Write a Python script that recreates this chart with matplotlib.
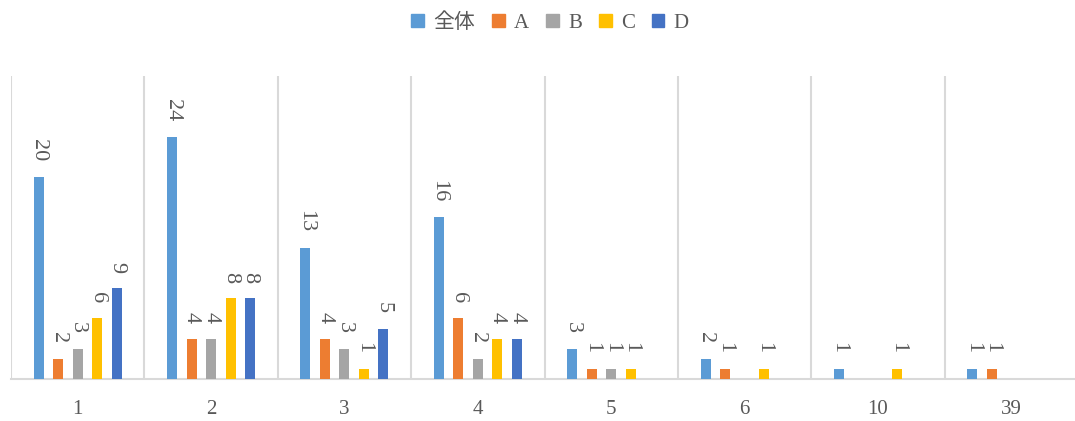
import matplotlib
matplotlib.use("Agg")
import matplotlib.pyplot as plt
from matplotlib.patches import Patch
import numpy as np

categories = ["1", "2", "3", "4", "5", "6", "10", "39"]
series_names = ["全体", "A", "B", "C", "D"]
zentai = [20, 24, 13, 16, 3, 2, 1, 1]
a_vals = [2, 4, 4, 6, 1, 1, 0, 1]
b_vals = [3, 4, 3, 2, 1, 0, 0, 0]
c_vals = [6, 8, 1, 4, 1, 1, 1, 0]
d_vals = [9, 8, 5, 4, 0, 0, 0, 0]

colors = ["#5B9BD5", "#ED7D31", "#A5A5A5", "#FFC000", "#4472C4"]
text_color = "#595959"
grid_color = "#D9D9D9"
fonts = ["Liberation Serif", "Noto Sans CJK JP", "DejaVu Sans"]

W, H = 1075, 421
fig = plt.figure(figsize=(W / 100, H / 100), dpi=100)
ax = fig.add_axes([11 / W, (H - 379) / H, 1067 / W, (379 - 76) / H])

x = np.arange(len(categories))
step = 0.146
width = 0.075
all_series = [zentai, a_vals, b_vals, c_vals, d_vals]

for i, vals in enumerate(all_series):
    pos = x + (i - 2) * step
    ax.bar(pos, vals, width=width, color=colors[i], zorder=3)
    for px, v in zip(pos, vals):
        if v == 0:
            continue
        ax.annotate(str(v), (px, v), xytext=(0, 11), textcoords="offset points",
                    rotation=-90, ha="center", va="bottom", fontsize=16,
                    color=text_color, family=fonts)

ax.set_xlim(-0.5, len(categories) - 0.5)
ax.set_ylim(0, 30)
for k in range(len(categories) + 1):
    ax.axvline(k - 0.5, color=grid_color, lw=1.5, zorder=1)

for s in ["top", "right", "left"]:
    ax.spines[s].set_visible(False)
ax.spines["bottom"].set_color(grid_color)
ax.spines["bottom"].set_linewidth(1.5)
ax.set_yticks([])
ax.set_xticks(x)
ax.set_xticklabels(categories, fontsize=15, color=text_color, family=fonts)
ax.tick_params(axis="x", length=0, pad=15)

handles = [Patch(color=c) for c in colors]
fig.legend(handles, series_names, loc="center", bbox_to_anchor=(550 / W, 1 - 23 / H),
           ncol=5, frameon=False, handlelength=0.62, handleheight=0.62,
           handletextpad=0.45, columnspacing=0.8,
           prop={"family": fonts, "size": 15}, labelcolor=text_color)

fig.savefig("out.png", dpi=100)
